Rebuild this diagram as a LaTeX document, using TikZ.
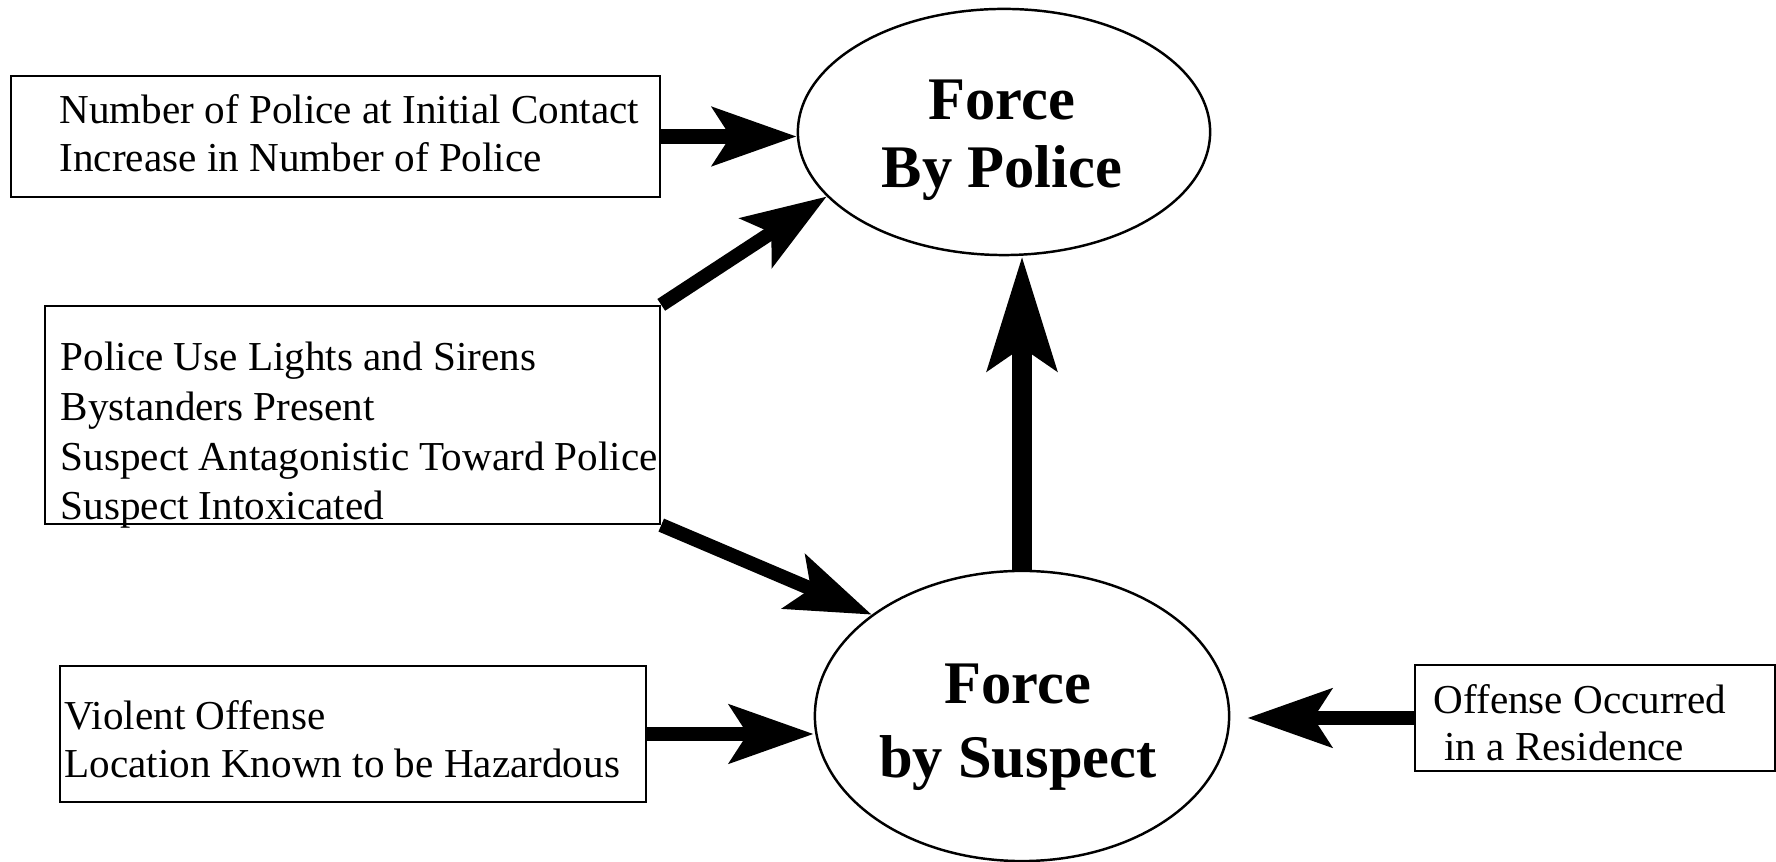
\documentclass[tikz,border=0pt]{standalone}
\usepackage{fontspec}
\setmainfont{Liberation Serif}
\usetikzlibrary{positioning, calc, arrows.meta, shapes.geometric}

\begin{document}
\begin{tikzpicture}[x=0.01cm, y=-0.01cm,
    factor/.style={draw, line width=0.6pt, inner sep=0pt},
    factortext/.style={anchor=base west, align=left, inner sep=0pt, font=\fontsize{11.7}{13.9}\selectfont},
    outcome/.style={draw, ellipse, line width=0.7pt, inner sep=0pt},
    outcometext/.style={anchor=base, align=center, inner sep=0pt},
    link/.style={line width=4pt, -{Stealth[length=0.84cm, width=0.58cm, inset=0.18cm]}},
    biglink/.style={line width=5.7pt, -{Stealth[length=1.13cm, width=0.68cm, inset=0.22cm]}}]
    \useasboundingbox (0,0) rectangle (1776,862);

    % Outcomes (text placed by the baseline of its last line)
    \node[outcome, minimum width=4.12cm, minimum height=2.46cm] (fbp) at (1004,132) {};
    \node[outcometext, font=\fontsize{17.2}{19.6}\selectfont\bfseries] (fbptext) at (1002,188) {Force\\By Police};
    \node[outcome, minimum width=4.14cm, minimum height=2.90cm] (fbs) at (1022,716) {};
    \node[outcometext, font=\fontsize{17.2}{21.3}\selectfont\bfseries] (fbstext) at (1018,778) {Force\\by Suspect};

    % Boxes
    \node[factor, minimum width=6.49cm, minimum height=1.21cm] (b1) at (335.5,136.5) {};
    \node[factortext] (b1text) at (59,172) {Number of Police at Initial Contact\\Increase in Number of Police};

    \node[factor, minimum width=6.15cm, minimum height=2.18cm] (b2) at (352.5,415) {};
    \node[factortext, font=\fontsize{11.7}{14.2}\selectfont] (b2text) at (60,520) {Police Use Lights and Sirens\\Bystanders Present\\Suspect Antagonistic Toward Police\\Suspect Intoxicated};

    \node[factor, minimum width=5.86cm, minimum height=1.36cm] (b3) at (353,734) {};
    \node[factortext] (b3text) at (64,778) {Violent Offense\\Location Known to be Hazardous};

    \node[factor, minimum width=3.60cm, minimum height=1.06cm] (b4) at (1595,718) {};
    \node[factortext, font=\fontsize{11.7}{13.5}\selectfont] (b4text) at (1433,761) {Offense Occurred\\\hspace*{3pt}in a Residence};

    % Links
    \draw[link] (b1.east) -- (b1.east -| fbp.west);
    \draw[link] (b2.north east) -- (fbp.200);
    \draw[link] (b2.south east) -- (fbs.146);
    \draw[link] (b3.east) -- (b3.east -| fbs.west);
    \draw[link, shorten >=0.17cm] (b4.west) -- (b4.west -| fbs.east);
    \draw[biglink] (fbs.north) -- (fbs.north |- fbp.south);
\end{tikzpicture}
\end{document}
